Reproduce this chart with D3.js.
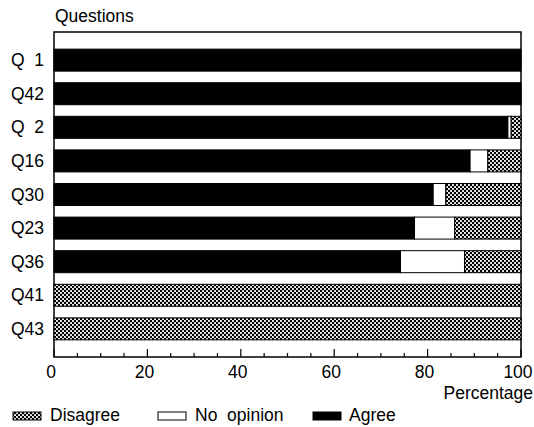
<!DOCTYPE html>
<html><head><meta charset="utf-8">
<script src="https://cdn.jsdelivr.net/npm/d3@7"></script>
<style>body{margin:0;background:#fff}svg{display:block}text{font-family:"Liberation Sans",Arial,sans-serif;fill:#000}</style>
</head><body>
<svg id="c" width="534" height="427"></svg>
<script>
const questions = ["Q 1","Q42","Q 2","Q16","Q30","Q23","Q36","Q41","Q43"];
const agree     = [100, 100, 97.2, 89.1, 81.2, 77.2, 74.2, 0, 0];
const noOpinion = [0, 0, 0.7, 3.8, 2.7, 8.6, 13.7, 0, 0];
const disagree  = [0, 0, 2.1, 7.1, 16.1, 14.2, 12.1, 100, 100];
const xTicks = [0, 20, 40, 60, 80, 100];
const seriesNames = ["Disagree", "No opinion", "Agree"];

const svg = d3.select("#c");
const defs = svg.append("defs");
const pat = defs.append("pattern").attr("id","hatch").attr("patternUnits","userSpaceOnUse")
  .attr("width",4).attr("height",4);
pat.append("rect").attr("width",4).attr("height",4).attr("fill","#000");
pat.append("circle").attr("cx",1).attr("cy",1).attr("r",1.05).attr("fill","#fff");
pat.append("circle").attr("cx",3).attr("cy",3).attr("r",1.05).attr("fill","#fff");

const L = 54, R = 521, T = 32, B = 357;
const FS = 17.5;
const x = d3.scaleLinear().domain([0,100]).range([L,R]);
const y = d3.scaleBand().domain(questions).range([T,B]).paddingInner(0.345).paddingOuter(0.51);

const fills = {agree:"#000", noOpinion:"#fff", disagree:"url(#hatch)"};
const rows = questions.map((q,i)=>({q, agree:agree[i], noOpinion:noOpinion[i], disagree:disagree[i]}));
const stack = d3.stack().keys(["agree","noOpinion","disagree"])(rows);

// plot frame
svg.append("rect").attr("x",L).attr("y",T).attr("width",R-L).attr("height",B-T)
  .attr("fill","#fff").attr("stroke","#000").attr("stroke-width",1.5);

stack.forEach(layer=>{
  svg.append("g").selectAll("rect").data(layer.filter(d=>d[1]-d[0]>0)).join("rect")
    .attr("x",d=>x(d[0])).attr("width",d=>x(d[1])-x(d[0]))
    .attr("y",d=>y(d.data.q)).attr("height",y.bandwidth())
    .attr("fill",fills[layer.key]).attr("stroke","#000").attr("stroke-width",1);
});

// x axis ticks (inside, pointing up)
const minor = d3.range(0,101,5);
svg.append("g").selectAll("line").data(minor).join("line")
  .attr("x1",d=>x(d)).attr("x2",d=>x(d))
  .attr("y1",B).attr("y2",d=>B-(d%20===0?8:4))
  .attr("stroke","#000").attr("stroke-width",1.2);
svg.append("g").selectAll("text").data(xTicks).join("text")
  .attr("x",d=>x(d)-3).attr("y",378).attr("text-anchor","middle")
  .attr("font-size",FS).text(d=>d);

// y labels
svg.append("g").selectAll("text").data(questions).join("text")
  .attr("x",44).attr("text-anchor","end").attr("y",d=>y(d)+y.bandwidth()/2+6)
  .attr("font-size",FS).text(d=>d.replace(" ","\u2007"));

svg.append("text").attr("x",55).attr("y",22).attr("font-size",FS).text("Questions");
svg.append("text").attr("x",533).attr("y",399).attr("text-anchor","end").attr("font-size",FS).text("Percentage");

// legend
const leg = [
  {name:seriesNames[0], fill:fills.disagree, sx:13, tx:50},
  {name:seriesNames[1], fill:fills.noOpinion, sx:158, tx:195},
  {name:seriesNames[2], fill:fills.agree, sx:313, tx:349}
];
const lg = svg.append("g").selectAll("g").data(leg).join("g");
lg.append("rect").attr("x",d=>d.sx).attr("y",412).attr("width",28).attr("height",8)
  .attr("fill",d=>d.fill).attr("stroke","#000").attr("stroke-width",1);
lg.append("text").attr("x",d=>d.tx).attr("y",421).attr("font-size",FS)
  .attr("xml:space","preserve").style("white-space","pre").text(d=>d.name.replace(" ","  "));
</script>
</body></html>
